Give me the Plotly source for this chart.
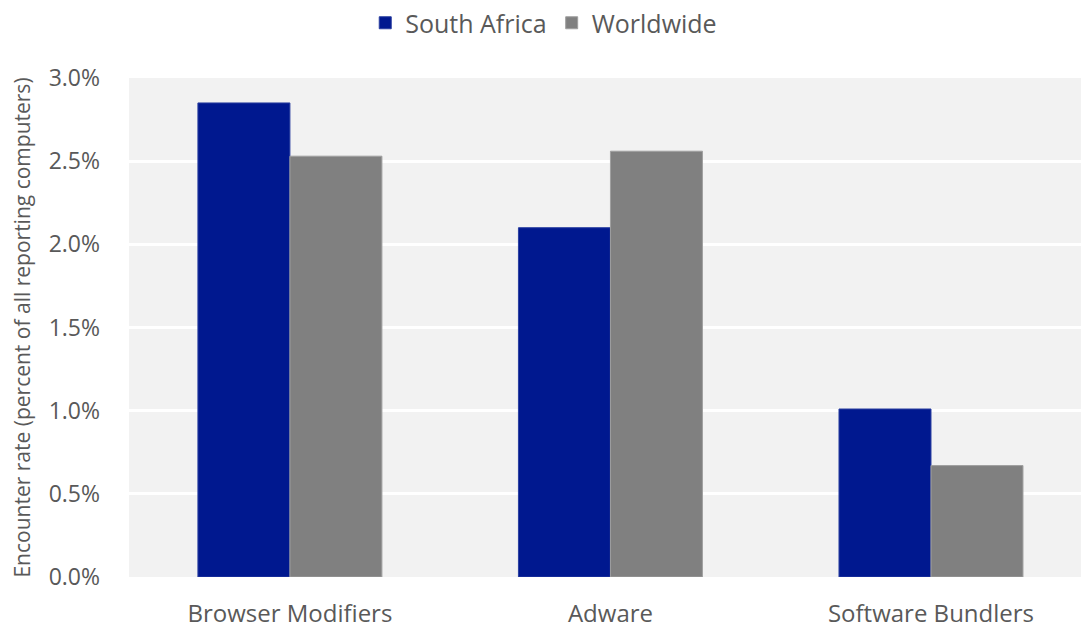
import plotly.graph_objects as go

categories = ["Browser Modifiers", "Adware", "Software Bundlers"]
south_africa = [2.85, 2.10, 1.01]
worldwide = [2.53, 2.56, 0.67]
y_ticks = [0.0, 0.5, 1.0, 1.5, 2.0, 2.5, 3.0]
y_tick_labels = [f"{v:.1f}%" for v in y_ticks]

FONT = "Open Sans, Noto Sans, sans-serif"
TXT = "#595959"

fig = go.Figure()
fig.add_trace(go.Bar(name="South Africa", x=categories, y=south_africa,
                     marker=dict(color="#00188F", line=dict(color="#2a3fa0", width=1))))
fig.add_trace(go.Bar(name="Worldwide", x=categories, y=worldwide,
                     marker=dict(color="#808080", line=dict(color="#a0a0a0", width=1))))

fig.update_layout(
    width=1081, height=634,
    margin=dict(l=129, r=0, t=78, b=57),
    paper_bgcolor="white", plot_bgcolor="#f2f2f2",
    barmode="group", bargap=0.426, bargroupgap=0,
    font=dict(family=FONT, color=TXT),
    legend=dict(orientation="h", x=0.503, xanchor="center", xref="container",
                y=1.0, yanchor="top", yref="container",
                font=dict(size=25, color=TXT),
                itemwidth=30, traceorder="normal"),
    showlegend=True,
)
fig.update_xaxes(range=[-0.502, 2.468], showgrid=False, showline=False, ticks="",
                 tickfont=dict(size=24, color=TXT), ticklabelstandoff=20)
fig.update_yaxes(range=[0, 3], tickmode="array", tickvals=y_ticks, ticktext=y_tick_labels,
                 showgrid=True, gridcolor="white", gridwidth=3, zeroline=False,
                 showline=False, ticks="", tickfont=dict(size=23, color=TXT),
                 ticklabelstandoff=28,
                 title=dict(text="Encounter rate (percent of all reporting computers)",
                            font=dict(size=21, color=TXT), standoff=12))

fig.write_html("out.html")
